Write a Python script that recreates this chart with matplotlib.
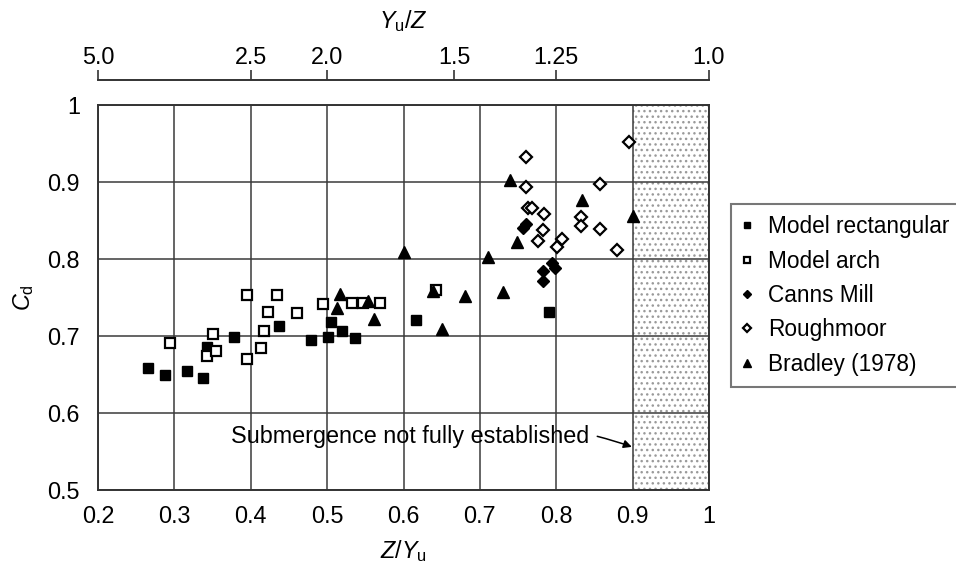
import matplotlib
matplotlib.use("Agg")
import matplotlib.pyplot as plt

plt.rcParams['font.family'] = ['Liberation Sans', 'DejaVu Sans']
plt.rcParams['mathtext.fontset'] = 'custom'
plt.rcParams['mathtext.rm'] = 'Liberation Sans'
plt.rcParams['mathtext.it'] = 'Liberation Sans:italic'

FS = 16.8
LEG_FS = 16.3

# Z/Yu and Cd for each data set
rect_x = [0.265, 0.288, 0.317, 0.337, 0.343, 0.378, 0.437, 0.479, 0.501, 0.505, 0.520, 0.536, 0.616, 0.790]
rect_y = [0.658, 0.649, 0.655, 0.646, 0.686, 0.699, 0.713, 0.695, 0.699, 0.718, 0.707, 0.697, 0.721, 0.731]

arch_x = [0.294, 0.343, 0.350, 0.355, 0.395, 0.395, 0.414, 0.418, 0.423, 0.434, 0.461, 0.494, 0.533, 0.547, 0.569, 0.643]
arch_y = [0.691, 0.674, 0.702, 0.681, 0.753, 0.670, 0.685, 0.706, 0.731, 0.753, 0.730, 0.741, 0.743, 0.743, 0.743, 0.760]

canns_x = [0.757, 0.761, 0.795, 0.798, 0.783, 0.783]
canns_y = [0.840, 0.846, 0.795, 0.788, 0.784, 0.771]

rough_x = [0.760, 0.760, 0.763, 0.768, 0.784, 0.782, 0.776, 0.807, 0.801, 0.832, 0.832, 0.857, 0.857, 0.879, 0.895]
rough_y = [0.933, 0.893, 0.866, 0.866, 0.858, 0.838, 0.823, 0.826, 0.815, 0.855, 0.843, 0.898, 0.839, 0.812, 0.952]

brad_x = [0.601, 0.517, 0.513, 0.554, 0.561, 0.639, 0.651, 0.680, 0.710, 0.730, 0.739, 0.749, 0.834, 0.900]
brad_y = [0.809, 0.754, 0.737, 0.746, 0.722, 0.758, 0.709, 0.752, 0.803, 0.757, 0.903, 0.822, 0.876, 0.856]

x_ticks = [0.2, 0.3, 0.4, 0.5, 0.6, 0.7, 0.8, 0.9, 1.0]
x_ticklabels = ['0.2', '0.3', '0.4', '0.5', '0.6', '0.7', '0.8', '0.9', '1']
y_ticks = [0.5, 0.6, 0.7, 0.8, 0.9, 1.0]
y_ticklabels = ['0.5', '0.6', '0.7', '0.8', '0.9', '1']
top_ticks = [5.0, 2.5, 2.0, 1.5, 1.25, 1.0]
top_ticklabels = ['5.0', '2.5', '2.0', '1.5', '1.25', '1.0']

fig = plt.figure(figsize=(9.56, 5.67), dpi=100)
ax = fig.add_axes([98 / 956, 1 - 490 / 567, (709 - 98) / 956, (490 - 105) / 567])

ax.set_xlim(0.2, 1.0)
ax.set_ylim(0.5, 1.0)

# region where submergence is not fully established
ax.fill_betweenx([0.5, 1.0], 0.9, 1.0, facecolor='white', edgecolor='#9a9a9a',
                 hatch='...', linewidth=0, zorder=0.2)

ax.set_axisbelow(True)
ax.grid(True, color='#3a3a3a', linewidth=1.1)
ax.set_xticks(x_ticks)
ax.set_xticklabels(x_ticklabels)
ax.set_yticks(y_ticks)
ax.set_yticklabels(y_ticklabels)
ax.tick_params(axis='both', length=0, labelsize=FS)
ax.tick_params(axis='x', pad=11)
ax.tick_params(axis='y', pad=13)
for s in ax.spines.values():
    s.set_color('#333333')
    s.set_linewidth(1.4)

ax.set_xlabel('$Z/Y_{\\mathrm{u}}$', fontsize=FS, labelpad=7)
ax.set_ylabel('$C_{\\mathrm{d}}$', fontsize=FS, labelpad=8)

kw = dict(linestyle='none', color='black', zorder=3)
h1, = ax.plot(rect_x, rect_y, marker='s', ms=7, mfc='black', mec='black', label='Model rectangular', **kw)
h2, = ax.plot(arch_x, arch_y, marker='s', ms=7, mfc='white', mec='black', mew=1.6, label='Model arch', **kw)
h3, = ax.plot(canns_x, canns_y, marker='D', ms=6, mfc='black', mec='black', label='Canns Mill', **kw)
h4, = ax.plot(rough_x, rough_y, marker='D', ms=6.5, mfc='white', mec='black', mew=1.6, label='Roughmoor', **kw)
h5, = ax.plot(brad_x, brad_y, marker='^', ms=8, mfc='black', mec='black', label='Bradley (1978)', **kw)

ax.annotate('Submergence not fully established', xy=(0.899, 0.556), xytext=(0.843, 0.570),
            fontsize=FS, ha='right', va='center',
            arrowprops=dict(arrowstyle='-|>', color='black', lw=1.1,
                            connectionstyle='arc3,rad=-0.15', shrinkA=4, shrinkB=0,
                            mutation_scale=12))

# reciprocal scale Yu/Z along the top
inv = lambda v: 1.0 / v
sec = ax.secondary_xaxis(1 + 25 / 385, functions=(inv, inv))
sec.set_xticks(top_ticks)
sec.set_xticklabels(top_ticklabels)
sec.tick_params(axis='x', direction='out', length=7, width=1.2, labelsize=FS, pad=1, color='#333333')
sec.spines['top'].set_color('#333333')
sec.spines['top'].set_linewidth(1.4)
sec.set_xlabel('$Y_{\\mathrm{u}}/Z$', fontsize=FS, labelpad=13)

leg = fig.legend(handles=[h1, h2, h3, h4, h5], loc='upper left',
                 bbox_to_anchor=(731 / 956, 1 - 204 / 567), fontsize=LEG_FS,
                 frameon=True, fancybox=False, markerscale=0.7, handlelength=0.4,
                 handletextpad=0.75, labelspacing=0.5, borderpad=0.5, borderaxespad=0)
leg.get_frame().set_edgecolor('#555555')
leg.get_frame().set_linewidth(1.5)

fig.savefig('out.png', dpi=100)
